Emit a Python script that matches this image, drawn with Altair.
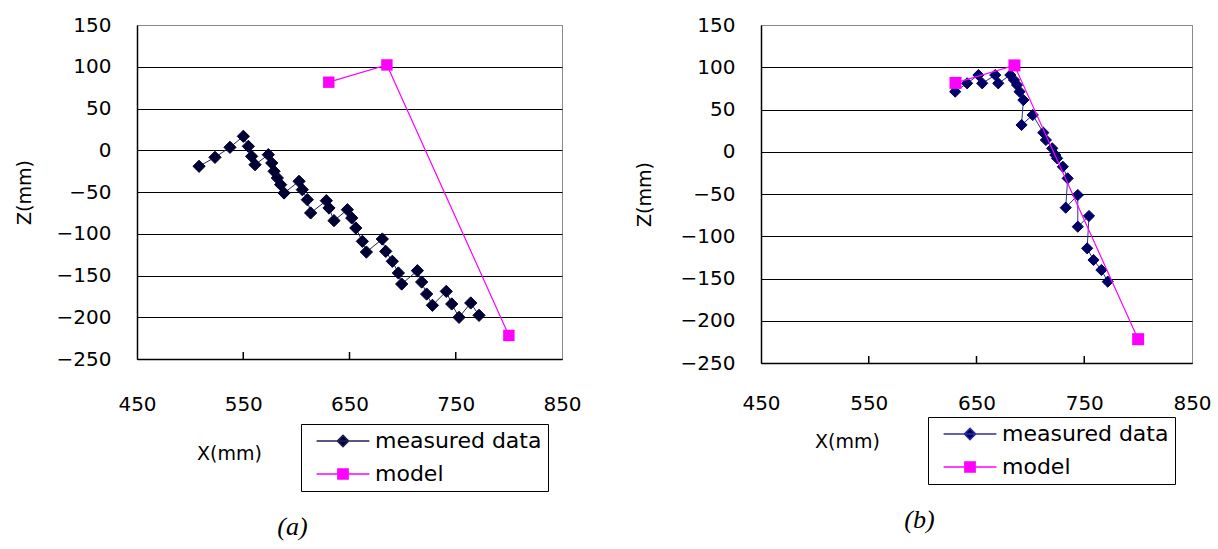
import altair as alt
import pandas as pd

# ---------------- data ----------------
series_names = ["measured data", "model"]

x_ticks = [450, 550, 650, 750, 850]
x_inner_ticks = [550, 650, 750]
y_ticks = [-250, -200, -150, -100, -50, 0, 50, 100, 150]

# panel (a) measured data
a_meas_x = [508.4, 523.4, 537.5, 550.1, 554.8, 557.9, 561.1, 573.6, 576.8, 579.0,
            582.1, 585.2, 588.4, 602.5, 605.6, 610.3, 613.4, 628.2, 630.7, 635.4,
            648.0, 652.1, 655.9, 662.1, 665.9, 680.9, 684.1, 690.3, 696.0, 699.1,
            713.9, 717.9, 722.6, 728.0, 741.1, 746.2, 753.1, 764.1, 771.9]
a_meas_z = [-19.2, -8.5, 3.5, 16.7, 4.7, -7.3, -17.3, -5.3, -15.3, -25.2,
            -33.2, -41.2, -51.2, -37.2, -47.2, -59.2, -75.1, -60.4, -69.2, -84.3,
            -71.2, -81.1, -93.1, -109.1, -121.9, -106.3, -121.1, -133.0, -147.0, -160.2,
            -144.2, -157.8, -172.2, -185.7, -169.0, -184.1, -200.1, -182.9, -197.7]

# panel (b) measured data
b_meas_x = [630.2, 641.3, 651.8, 655.3, 667.4, 670.2, 681.4, 684.8, 687.6, 690.0,
            693.5, 691.8, 702.2, 712.0, 714.4, 720.3, 723.1, 724.8, 730.1, 734.6,
            732.8, 744.0, 744.0, 754.4, 752.7, 758.6, 765.9, 771.8]
b_meas_z = [71.1, 81.0, 90.8, 81.0, 90.8, 81.0, 90.8, 84.9, 79.0, 71.1,
            61.2, 31.7, 43.5, 22.6, 13.9, 4.0, -3.8, -7.8, -17.7, -31.5,
            -66.2, -51.2, -88.7, -76.0, -114.3, -128.1, -139.9, -153.7]

# model (same in both panels)
model_x = [630.5, 685.2, 800.0]
model_z = [81.5, 102.2, -221.8]

MODEL_COLOR = "#ff00ff"
FONT = "DejaVu Sans"

DIAMOND_PATH = "M-4.4,0L4.4,0M0,-0.95L0.95,0L0,0.95L-0.95,0Z"
SQUARE_PATH = "M-4.4,0L4.4,0M-0.85,-0.85L0.85,-0.85L0.85,0.85L-0.85,0.85Z"


def panel(mx, mz, meas_marker, meas_line, w, h, label_pad, xt_x, xt_y, yt_x,
          leg_x, leg_y, caption, d_size, s_size):
    meas = pd.DataFrame({"x": mx, "z": mz, "order": list(range(len(mx)))})
    model = pd.DataFrame({"x": model_x, "z": model_z, "order": list(range(len(model_x)))})
    ticks = pd.DataFrame({"x": x_inner_ticks})
    leg_df = pd.DataFrame({"series": series_names})

    xs = alt.Scale(domain=[450, 850], nice=False, zero=False)
    ys = alt.Scale(domain=[-250, 150], nice=False, zero=False)

    x_axis = alt.Axis(values=x_ticks, title="X(mm)", grid=False, ticks=False, tickSize=0,
                      labelPadding=label_pad, labelFlush=False,
                      titleX=xt_x, titleY=xt_y, titleBaseline="middle", titleAlign="center",
                      domainColor="black", domainWidth=1.5)
    y_axis = alt.Axis(values=y_ticks, title="Z(mm)", grid=True, ticks=False, tickSize=0,
                      labelPadding=26,
                      gridColor={"condition": {"test": "datum.value === 150", "value": "#8a8a8a"},
                                 "value": "black"},
                      gridWidth=1, gridOpacity=1,
                      titleX=yt_x, titleY=h / 2, titleAngle=270, titleBaseline="middle",
                      titleAlign="center", domainColor="black", domainWidth=1.5)

    X = alt.X("x:Q", scale=xs, axis=x_axis)
    Y = alt.Y("z:Q", scale=ys, axis=y_axis)

    tick_layer = alt.Chart(ticks).mark_rule(color="black", strokeWidth=1.5).encode(
        x=X, y=alt.value(h), y2=alt.value(h - 7))

    meas_l = alt.Chart(meas).mark_line(color=meas_line, strokeWidth=1).encode(
        x=X, y=Y, order="order:Q")
    meas_p = alt.Chart(meas).mark_point(shape="diamond", filled=True, size=d_size,
                                        color=meas_marker, stroke=meas_marker, strokeWidth=1,
                                        opacity=1).encode(x=X, y=Y)
    model_l = alt.Chart(model).mark_line(color=MODEL_COLOR, strokeWidth=1.2).encode(
        x=X, y=Y, order="order:Q")
    model_p = alt.Chart(model).mark_point(shape="square", filled=True, size=s_size,
                                          color=MODEL_COLOR, opacity=1).encode(x=X, y=Y)

    leg = alt.Legend(title=None, orient="none", legendX=leg_x, legendY=leg_y,
                     symbolSize=144, symbolStrokeWidth=1.5, symbolOffset=25,
                     labelOffset=21, labelFont=FONT, labelFontSize=22, labelColor="black",
                     rowPadding=11, padding=6, strokeColor="black", fillColor="white",
                     symbolOpacity=1, labelLimit=400)
    legend_layer = alt.Chart(leg_df).mark_point(filled=True, size=144).encode(
        shape=alt.Shape("series:N", scale=alt.Scale(domain=series_names,
                                                    range=[DIAMOND_PATH, SQUARE_PATH]), legend=leg),
        fill=alt.Fill("series:N", scale=alt.Scale(domain=series_names,
                                                  range=[meas_marker, MODEL_COLOR]), legend=leg),
        stroke=alt.Stroke("series:N", scale=alt.Scale(domain=series_names,
                                                      range=[meas_line, MODEL_COLOR]), legend=leg),
    ).transform_filter("false")

    return alt.layer(tick_layer, meas_l, meas_p, model_l, model_p, legend_layer).properties(
        width=w, height=h,
        title=alt.TitleParams(caption, orient="bottom", anchor="middle", dx=-57, offset=22,
                              font="Liberation Serif", fontStyle="italic", fontSize=26,
                              fontWeight="normal", color="black"),
    )


panel_a = panel(a_meas_x, a_meas_z, "#000033", "#22225a", 425, 334, 35, 92, 94, -113,
                164, 399, "(a)", 150, 130)
panel_b = panel(b_meas_x, b_meas_z, "#000066", "#2e2e9e", 431, 338, 30, 86, 78, -117,
                167, 392, "(b)", 125, 144)

chart = alt.hconcat(panel_a, panel_b, spacing=52).resolve_scale(
    x="independent", y="independent", shape="independent", fill="independent",
    stroke="independent"
).resolve_legend(
    shape="independent", fill="independent", stroke="independent"
).properties(
    padding={"left": 14, "top": 14, "right": 4, "bottom": 4},
    background="white",
).configure_view(
    stroke="#8a8a8a", strokeWidth=1
).configure_axis(
    labelFont=FONT, labelFontSize=20, labelColor="black",
    titleFont=FONT, titleFontSize=19, titleFontWeight="normal", titleColor="black",
)

chart.save("out.html", embed_options={"renderer": "svg", "actions": False})
